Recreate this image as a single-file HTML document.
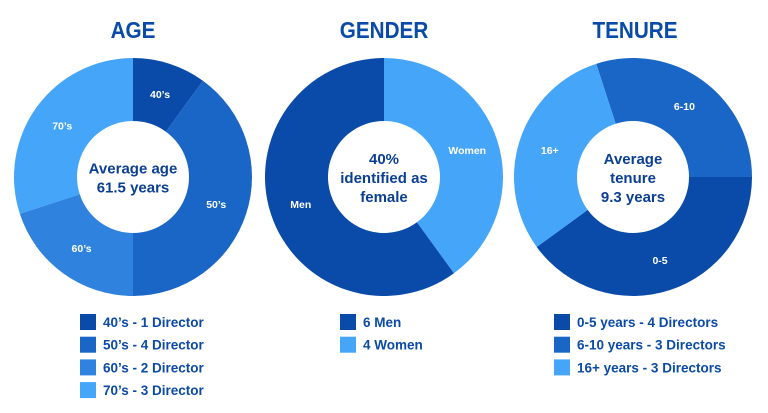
<!DOCTYPE html>
<html><head><meta charset="utf-8"><style>
html,body{margin:0;padding:0;background:#fff;}
svg{display:block;font-family:"Liberation Sans",sans-serif;}
</style></head><body>
<svg id="chart" width="768" height="413" viewBox="0 0 768 413">
<text x="133" y="38" text-anchor="middle" font-size="23" font-weight="bold" fill="#0a4aa8" transform="translate(133,0) scale(0.9,1) translate(-133,0)">AGE</text>
<text x="384" y="38" text-anchor="middle" font-size="23" font-weight="bold" fill="#0a4aa8" transform="translate(384,0) scale(0.9,1) translate(-384,0)">GENDER</text>
<text x="635" y="38" text-anchor="middle" font-size="23" font-weight="bold" fill="#0a4aa8" transform="translate(635,0) scale(0.9,1) translate(-635,0)">TENURE</text>
<g id="donuts"></g>
<g id="legends"></g>
</svg>
<script>
const ageLabels = ["40’s","50’s","60’s","70’s"];
const ageValues = [1,4,2,3];
const ageLegend = ["40’s - 1 Director","50’s - 4 Director","60’s - 2 Director","70’s - 3 Director"];
const genderLabels = ["Women","Men"];
const genderValues = [4,6];
const genderLegend = ["6 Men","4 Women"];
const tenureLabels = ["6-10","0-5","16+"];
const tenureValues = [3,4,3];
const tenureLegend = ["0-5 years - 4 Directors","6-10 years - 3 Directors","16+ years - 3 Directors"];

const NS="http://www.w3.org/2000/svg";
const donuts=document.getElementById('donuts');
const legends=document.getElementById('legends');
const R=119, r=56;
function pt(cx,cy,rad,deg){const a=(deg-90)*Math.PI/180;return [cx+rad*Math.cos(a),cy+rad*Math.sin(a)];}
function drawDonut(name,cx,cy,start,labels,values,colors,centerLines){
  const total=values.reduce((a,b)=>a+b,0);
  let a0=start;
  values.forEach((v,i)=>{
    const a1=a0+v/total*360;
    const large=(a1-a0)>180?1:0;
    const p1=pt(cx,cy,R,a0),p2=pt(cx,cy,R,a1),p3=pt(cx,cy,r,a1),p4=pt(cx,cy,r,a0);
    const path=document.createElementNS(NS,'path');
    path.setAttribute('d',`M${p1[0]},${p1[1]}A${R},${R} 0 ${large} 1 ${p2[0]},${p2[1]}L${p3[0]},${p3[1]}A${r},${r} 0 ${large} 0 ${p4[0]},${p4[1]}Z`);
    path.setAttribute('fill',colors[i]);
    
    
    donuts.appendChild(path);
    const lp=pt(cx,cy,(R+r)/2,(a0+a1)/2);
    const t=document.createElementNS(NS,'text');
    t.setAttribute('x',lp[0]);t.setAttribute('y',lp[1]+4);
    t.setAttribute('text-anchor','middle');t.setAttribute('font-size','10.5');
    t.setAttribute('font-weight','bold');t.setAttribute('fill','#fff');
    
    
    t.textContent=labels[i];
    donuts.appendChild(t);
    a0=a1;
  });
  const n=centerLines.length;
  centerLines.forEach((s,i)=>{
    const t=document.createElementNS(NS,'text');
    t.setAttribute('x',cx);t.setAttribute('y',cy+6+(i-(n-1)/2)*19);
    t.setAttribute('text-anchor','middle');t.setAttribute('font-size','15');
    t.setAttribute('font-weight','bold');t.setAttribute('fill','#0b3f94');
    
    
    t.textContent=s;
    donuts.appendChild(t);
  });
}
function drawLegend(name,x,y0,items,colors){
  items.forEach((s,i)=>{
    const y=y0+i*22.7;
    const rc=document.createElementNS(NS,'rect');
    rc.setAttribute('x',x);rc.setAttribute('y',y-8);rc.setAttribute('width',16);rc.setAttribute('height',16);
    rc.setAttribute('fill',colors[i]);
    
    
    legends.appendChild(rc);
    const t=document.createElementNS(NS,'text');
    t.setAttribute('x',x+23);t.setAttribute('y',y+5);
    t.setAttribute('font-size','13.5');t.setAttribute('font-weight','bold');t.setAttribute('fill','#0b4aa6');
    
    
    t.textContent=s;
    legends.appendChild(t);
  });
}
const C1="#0a4aa8",C2="#1a66c6",C3="#2f83de",C4="#45a5f9";
drawDonut('age',133,177,0,ageLabels,ageValues,[C1,C2,C3,C4],["Average age","61.5 years"]);
drawDonut('gender',384,177,0,genderLabels,genderValues,[C4,C1],["40%","identified as","female"]);
drawDonut('tenure',633,177,-18,tenureLabels,tenureValues,[C2,C1,C4],["Average","tenure","9.3 years"]);
drawLegend('age',80,322,ageLegend,[C1,C2,C3,C4]);
drawLegend('gender',340,322,genderLegend,[C1,C4]);
drawLegend('tenure',554,322,tenureLegend,[C1,C2,C4]);
</script>
</body></html>
